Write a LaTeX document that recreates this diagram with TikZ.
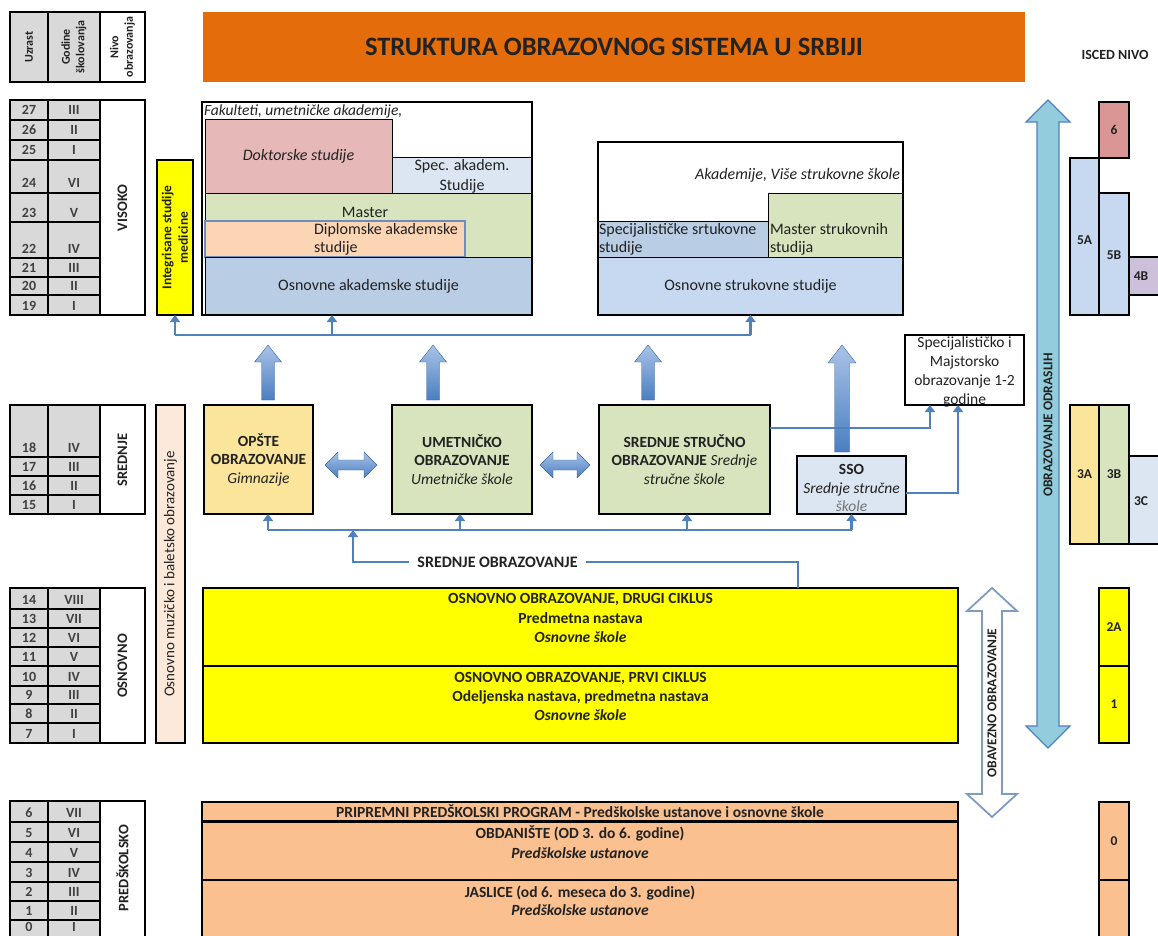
\documentclass[tikz,border=0pt]{standalone}
\usepackage{fontspec}
\setmainfont{Carlito}
\usetikzlibrary{arrows.meta}
\definecolor{tgray}{HTML}{D9D9D9}
\definecolor{torange}{HTML}{E46C0A}
\definecolor{cpink}{HTML}{E6B9B8}
\definecolor{cltblue}{HTML}{DCE6F2}
\definecolor{cgreen}{HTML}{D7E4BD}
\definecolor{cpeach}{HTML}{FCD5B5}
\definecolor{cblue}{HTML}{B9CDE5}
\definecolor{cblue2}{HTML}{C6D9F1}
\definecolor{cpale}{HTML}{FBE59B}
\definecolor{cyel}{HTML}{FFFF00}
\definecolor{csalmon}{HTML}{FAC090}
\definecolor{cmuz}{HTML}{FDE9D9}
\definecolor{cred}{HTML}{D99694}
\definecolor{clav}{HTML}{CCC0DA}
\definecolor{cteal}{HTML}{93CDDD}
\definecolor{conncol}{HTML}{4F81BD}
\definecolor{dipcol}{HTML}{6C8EBF}
\definecolor{obvcol}{HTML}{7F9CC0}
\definecolor{blkhi}{HTML}{A9C3E8}
\definecolor{blklo}{HTML}{4A7EC0}
\definecolor{txtcol}{HTML}{222222}
\newcommand{\fs}[2]{\fontsize{#1}{#2}\selectfont}
\newcommand{\UpBlk}[6]{\path[blk] (#1-#4,#3) -- (#1-#4,#2+#6) -- (#1-#5,#2+#6) -- (#1,#2) -- (#1+#5,#2+#6) -- (#1+#4,#2+#6) -- (#1+#4,#3) -- cycle;}
\newcommand{\HBlk}[3]{\path[blk] (#1,#3) -- (#1+13,#3-13) -- (#1+13,#3-5) -- (#2-13,#3-5) -- (#2-13,#3-13) -- (#2,#3) -- (#2-13,#3+13) -- (#2-13,#3+5) -- (#1+13,#3+5) -- (#1+13,#3+13) -- cycle;}
\newcommand{\VDbl}[7]{\path[#7] (#1,#2) -- (#1+#5,#2+#6) -- (#1+#4,#2+#6) -- (#1+#4,#3-#6) -- (#1+#5,#3-#6) -- (#1,#3) -- (#1-#5,#3-#6) -- (#1-#4,#3-#6) -- (#1-#4,#2+#6) -- (#1-#5,#2+#6) -- cycle;}
\tikzset{
  x=1pt, y=-1pt,
  every node/.style={text=txtcol, inner sep=0pt, outer sep=0pt},
  body/.style={font=\fs{16}{18}, align=center},
  bbody/.style={font=\fs{15.5}{18.5}, align=center},
  rb/.style={draw=black, line width=1pt, anchor=north west, inner sep=0pt},
  cell/.style={draw=black, line width=1.4pt, fill=tgray},
  lvlbox/.style={draw=black, line width=1.4pt, fill=white},
  numtxt/.style={font=\fs{14}{16}\bfseries, text=black!75, anchor=base},
  hdr/.style={rotate=90, font=\fs{12}{14.5}\bfseries, align=center},
  lvl/.style={rotate=90, font=\fs{14.5}{16}\bfseries},
  isc/.style={rb, line width=1.3pt, minimum width=30},
  isct/.style={font=\fs{13.5}{15}\bfseries},
  conn/.style={draw=conncol, line width=2.6pt, -{Triangle[length=7pt,width=10pt]}},
  blk/.style={top color=blkhi, bottom color=blklo, draw=blklo!80!black, line width=0.4pt},
}
\begin{document}
\begin{tikzpicture}
\useasboundingbox (0,0) rectangle (1158,936);
\fill[white] (0,0) rectangle (1158,936);

% ---------- header of left table ----------
\draw[cell] (10,12) rectangle (48,82);
\draw[cell] (48,12) rectangle (100,82);
\draw[lvlbox] (100,12) rectangle (145,82);
\node[hdr] (h1) at (29,47) {Uzrast};
\node[hdr] (h2) at (74,47) {Godine\\školovanja};
\node[hdr] (h3) at (122.5,47) {Nivo\\obrazovanja};

% ---------- VISOKO ----------
\foreach \a/\b/\n/\r [count=\i] in {100/120/27/III,120/140/26/II,140/160/25/I,160/193/24/VI,193/222/23/V,222/258/22/IV,258/277/21/III,277/295/20/II,295/315/19/I}{
  \draw[cell] (10,\a) rectangle (48,\b);
  \draw[cell] (48,\a) rectangle (100,\b);
  \node[numtxt] (va\i) at (29,\b-5) {\n};
  \node[numtxt] (vr\i) at (74,\b-5) {\r};
}
\draw[lvlbox] (100,100) rectangle (145,315);
\node[lvl] (lvisoko) at (122.5,208) {VISOKO};

% ---------- SREDNJE ----------
\foreach \a/\b/\n/\r [count=\i] in {405/457/18/IV,457/476/17/III,476/495/16/II,495/514/15/I}{
  \draw[cell] (10,\a) rectangle (48,\b);
  \draw[cell] (48,\a) rectangle (100,\b);
  \node[numtxt] (sa\i) at (29,\b-5) {\n};
  \node[numtxt] (sr\i) at (74,\b-5) {\r};
}
\draw[lvlbox] (100,405) rectangle (145,514);
\node[lvl] (lsrednje) at (122.5,460) {SREDNJE};

% ---------- OSNOVNO ----------
\foreach \a/\b/\n/\r [count=\i] in {588/609/14/VIII,609/628/13/VII,628/647/12/VI,647/666/11/V,666/686/10/IV,686/704/9/III,704/723/8/II,723/743/7/I}{
  \draw[cell] (10,\a) rectangle (48,\b);
  \draw[cell] (48,\a) rectangle (100,\b);
  \node[numtxt] (oa\i) at (29,\b-5) {\n};
  \node[numtxt] (or\i) at (74,\b-5) {\r};
}
\draw[lvlbox] (100,588) rectangle (145,743);
\node[lvl] (losnovno) at (122.5,666) {OSNOVNO};

% ---------- PREDSKOLSKO ----------
\foreach \a/\b/\n/\r [count=\i] in {801/822/6/VII,822/842/5/VI,842/862/4/V,862/882/3/IV,882/901/2/III,901/920/1/II}{
  \draw[cell] (10,\a) rectangle (48,\b);
  \draw[cell] (48,\a) rectangle (100,\b);
  \node[numtxt] (pa\i) at (29,\b-5) {\n};
  \node[numtxt] (pr\i) at (74,\b-5) {\r};
}
\draw[cell] (10,920) rectangle (48,945);
\draw[cell] (48,920) rectangle (100,945);
\node[numtxt] (pa7) at (29,931) {0};
\node[numtxt] (pr7) at (74,931) {I};
\draw[lvlbox] (100,801) rectangle (145,945);
\node[lvl] (lpred) at (122.5,868) {PREDŠKOLSKO};

% ---------- title ----------
\node[fill=torange, minimum width=822, minimum height=70, font=\fs{26.5}{30}\bfseries] (title) at (614,47) {STRUKTURA OBRAZOVNOG SISTEMA U SRBIJI};
\node[font=\fs{14}{15}\bfseries] (iscedt) at (1115,55) {ISCED NIVO};

% ---------- side vertical boxes ----------
\node[rb, fill=cyel, line width=1.3pt, minimum width=36, minimum height=155] (integ) at (157,160) {};
\node[rotate=90, font=\fs{13.5}{16.5}\bfseries, align=center] (integt) at (integ.center) {Integrisane studije\\medicine};
\node[rb, fill=cmuz, line width=1.3pt, minimum width=29, minimum height=338] (muz) at (156,405) {};
\node[rotate=90, font=\fs{15}{17}] (muzt) at (muz.center) {Osnovno muzičko i baletsko obrazovanje};

% ---------- Fakulteti ----------
\node[rb, fill=white, minimum width=330, minimum height=213] (fak) at (202,102) {};
\node[rb, fill=cpink, minimum width=187, minimum height=73] (dok) at (205,120) {};
\node[rb, fill=cltblue, minimum width=140, minimum height=35] (spak) at (392,158) {};
\node[rb, fill=cgreen, minimum width=327, minimum height=64] (mast) at (205,193) {};
\node[rb, fill=cpeach, draw=dipcol, line width=1.3pt, minimum width=260, minimum height=36] (dipl) at (205,221) {};
\node[rb, fill=cblue, minimum width=327, minimum height=58] (oas) at (205,257) {};
\draw[line width=2.2pt] (fak.north west) rectangle (fak.south east);
\node[font=\fs{15.5}{17}\itshape, anchor=west] (fakt) at (204,111) {Fakulteti, umetničke akademije,};
\node[font=\fs{16}{17}\itshape] (dokt) at (dok.center) {Doktorske studije};
\node[font=\fs{16}{20}, align=center] (spakt) at (462,176) {Spec. akadem.\\Studije};
\node[body] (mastt) at (365,212) {Master};
\node[body, align=left, anchor=west] (diplt) at (314,239) {Diplomske akademske\\studije};
\node[body] (oast) at (oas.center) {Osnovne akademske studije};

% ---------- Akademije ----------
\node[rb, fill=white, minimum width=305, minimum height=173] (akad) at (598,142) {};
\node[rb, fill=cblue, minimum width=170, minimum height=36] (spsr) at (598,221) {};
\node[rb, fill=cgreen, minimum width=135, minimum height=64] (msr) at (768,193) {};
\node[rb, fill=cblue2, minimum width=305, minimum height=58] (osr) at (598,257) {};
\draw[line width=2.2pt] (akad.north west) rectangle (akad.south east);
\node[font=\fs{16}{17}\itshape, anchor=east] (akadt) at (900,175) {Akademije, Više strukovne škole};
\node[body, align=left, anchor=west] (spsrt) at (599,239) {Specijalističke srtukovne\\studije};
\node[body, align=left, anchor=west] (msrt) at (770,239) {Master strukovnih\\studija};
\node[body] (osrt) at (osr.center) {Osnovne strukovne studije};

% ---------- secondary level ----------
\node[rb, fill=cpale, line width=1.8pt, minimum width=109, minimum height=109] (opste) at (204,405) {};
\node[bbody] (opstet) at (opste.center) {\textbf{OPŠTE}\\\textbf{OBRAZOVANJE}\\\textit{Gimnazije}};
\node[rb, fill=cgreen, line width=1.8pt, minimum width=140, minimum height=109] (umet) at (392,405) {};
\node[bbody] (umett) at (umet.center) {\textbf{UMETNIČKO}\\\textbf{OBRAZOVANJE}\\\textit{Umetničke škole}};
\node[rb, fill=cgreen, line width=1.8pt, minimum width=171, minimum height=109] (ssm) at (599,405) {};
\node[bbody] (ssmt) at (ssm.center) {\textbf{SREDNJE STRUČNO}\\\textbf{OBRAZOVANJE} \textit{Srednje}\\\textit{stručne škole}};
\node[rb, fill=cltblue, line width=1.8pt, minimum width=109, minimum height=58] (ssk) at (797,456) {};
\node[bbody] (sskt) at (851.5,488) {\textbf{SSO}\\\textit{Srednje stručne}\\\textit{\textcolor{black!55}{škole}}};
\node[rb, fill=white, line width=1.5pt, minimum width=119, minimum height=70] (spec) at (905,335) {};
\node[font=\fs{15.5}{19}, align=center] (spect) at (964.5,372) {Specijalističko i\\Majstorsko\\obrazovanje 1-2\\godine};
\draw[line width=1.5pt] (spec.north west) rectangle (spec.south east);

% ---------- primary ----------
\node[rb, fill=cyel, line width=1.3pt, minimum width=755, minimum height=78] (osn2) at (203,588) {};
\node[rb, fill=cyel, line width=1.3pt, minimum width=755, minimum height=77] (osn1) at (203,666) {};
\node[font=\fs{15.5}{19.5}\bfseries, align=center] (osn2t) at (580.5,618) {OSNOVNO OBRAZOVANJE, DRUGI CIKLUS\\Predmetna nastava\\\textit{Osnovne škole}};
\node[font=\fs{15.5}{19}\bfseries, align=center] (osn1t) at (580.5,696) {OSNOVNO OBRAZOVANJE, PRVI CIKLUS\\Odeljenska nastava, predmetna nastava\\\textit{Osnovne škole}};

% ---------- preschool ----------
\node[rb, fill=csalmon, line width=2.5pt, minimum width=756, minimum height=19] (ppp) at (202,802) {};
\node[rb, fill=csalmon, line width=2.5pt, minimum width=756, minimum height=58] (obd) at (202,822) {};
\node[rb, fill=csalmon, line width=2.5pt, minimum width=756, minimum height=80] (jas) at (202,880) {};
\node[font=\fs{15.5}{16}\bfseries] (pppt) at (580,811) {PRIPREMNI PREDŠKOLSKI PROGRAM - Predškolske ustanove i osnovne škole};
\node[font=\fs{15.5}{20}\bfseries, align=center] (obdt) at (580,842) {OBDANIŠTE (OD 3. do 6. godine)\\\textit{Predškolske ustanove}};
\node[font=\fs{15.5}{18}\bfseries, align=center] (jast) at (580,901) {JASLICE (od 6. meseca do 3. godine)\\\textit{Predškolske ustanove}};

% ---------- block arrows ----------
\UpBlk{268}{345}{400}{6.5}{13.5}{17}
\UpBlk{433}{345}{400}{6.5}{13.5}{17}
\UpBlk{648}{345}{400}{6.5}{13.5}{17}
\UpBlk{842}{345}{452}{7.5}{14}{18}
\HBlk{325}{377}{465}
\HBlk{540}{590}{465}

% ---------- connectors upper ----------
\coordinate (hl) at (175,335);
\coordinate (m1) at (332,335);
\draw[conn, -] (hl) -- (akad.south |- hl);
\draw[conn] (hl) -- (integ.south);
\draw[conn] (m1) -- (fak.south -| m1);
\draw[conn] (akad.south |- hl) -- (akad.south);

% ---------- connectors lower ----------
\coordinate (b1) at (268,530);
\coordinate (b2) at (460,530);
\coordinate (b3) at (687,530);
\coordinate (b4) at (851.5,530);
\draw[conn, -] (b1) -- (b4);
\draw[conn] (b1) -- (opste.south -| b1);
\draw[conn] (b2) -- (umet.south -| b2);
\draw[conn] (b3) -- (ssm.south -| b3);
\draw[conn] (b4) -- (ssk.south -| b4);
\coordinate (s1) at (798,562);
\coordinate (s2) at (353,562);
\draw[conn] (osn2.north -| s1) -- (s1) -- (s2) -- (s2 |- b1);
\node[fill=white, inner xsep=8pt, inner ysep=4pt, font=\fs{16}{17}\bfseries] (srobr) at (497.5,562) {SREDNJE OBRAZOVANJE};

% ---------- to specijalisticko ----------
\coordinate (c1) at (930,428);
\coordinate (c2) at (958,493);
\draw[conn] (ssm.east |- c1) -- (c1) -- (spec.south -| c1);
\draw[conn] (ssk.east |- c2) -- (c2) -- (spec.south -| c2);

% ---------- vertical double arrows ----------
\VDbl{1048}{100}{748}{11}{22}{22}{draw=conncol, fill=cteal, line width=1.2pt}
\node[rotate=90, font=\fs{13.5}{15}\bfseries] (odr) at (1048,425) {OBRAZOVANJE ODRASLIH};
\VDbl{992}{588}{817}{10}{25}{23}{draw=obvcol, fill=white, line width=1.8pt}
\node[rotate=90, font=\fs{13.5}{15}\bfseries] (obv) at (992,703) {OBAVEZNO OBRAZOVANJE};

% ---------- ISCED ----------
\node[isc, fill=cred, minimum height=56] (i6) at (1099,102) {};
\node[isc, fill=cblue2, minimum width=29, minimum height=157] (i5a) at (1070,158) {};
\node[isc, fill=cblue2, minimum height=122] (i5b) at (1099,193) {};
\node[isc, fill=clav, minimum width=36, minimum height=38] (i4b) at (1129,257) {};
\node[isc, fill=cpale, minimum width=29, minimum height=139] (i3a) at (1070,405) {};
\node[isc, fill=cgreen, minimum height=139] (i3b) at (1099,405) {};
\node[isc, fill=cltblue, minimum width=36, minimum height=88] (i3c) at (1129,456) {};
\node[isc, fill=cyel, minimum height=78] (i2a) at (1099,588) {};
\node[isc, fill=cyel, minimum height=77] (i1) at (1099,666) {};
\node[isc, fill=csalmon, minimum height=78] (i0) at (1099,802) {};
\node[isc, fill=csalmon, minimum height=80] (im1) at (1099,880) {};
\node[isct] (i6t) at (i6.center) {6};
\node[isct] (i5at) at (1084.5,240) {5A};
\node[isct] (i5bt) at (1114,255) {5B};
\node[isct] (i4bt) at (1141,276) {4B};
\node[isct] (i3at) at (i3a.center) {3A};
\node[isct] (i3bt) at (i3b.center) {3B};
\node[isct] (i3ct) at (1141,501) {3C};
\node[isct] (i2at) at (i2a.center) {2A};
\node[isct] (i1t) at (i1.center) {1};
\node[isct] (i0t) at (i0.center) {0};
\end{tikzpicture}
\end{document}
